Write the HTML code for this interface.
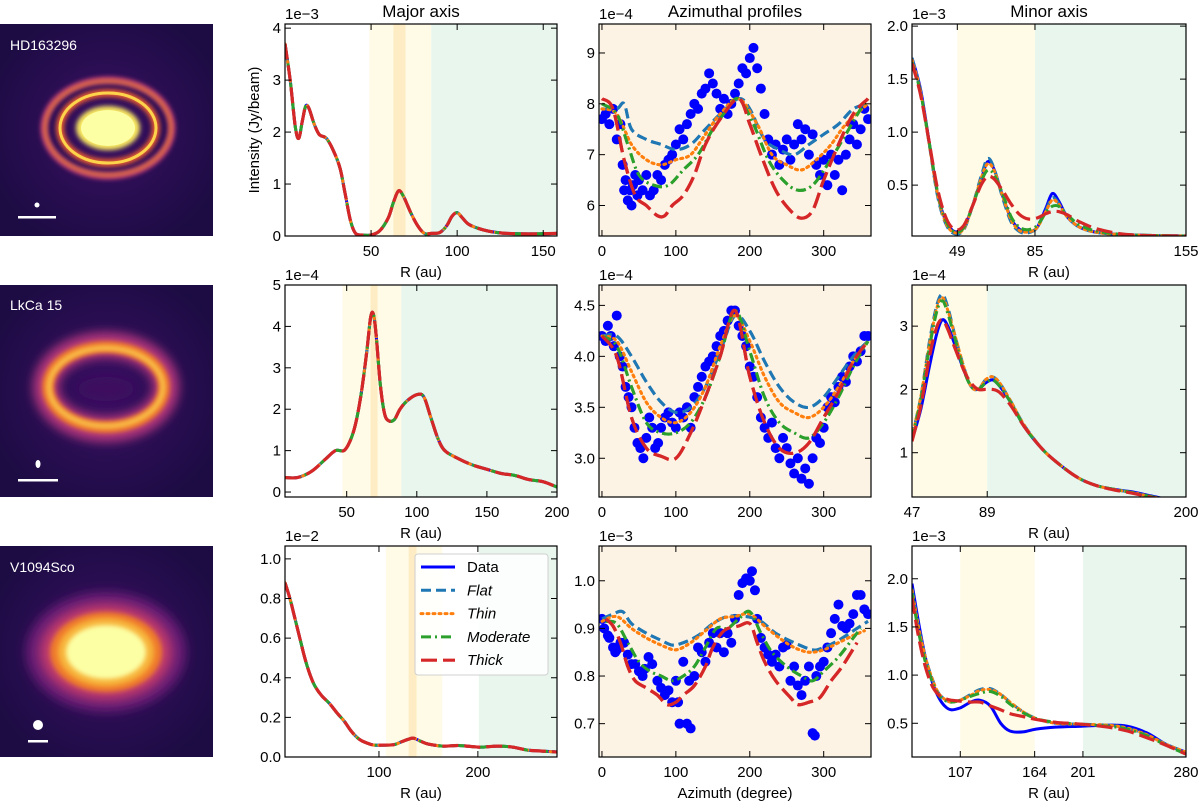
<!DOCTYPE html>
<html><head><meta charset="utf-8"><style>
html,body{margin:0;padding:0;background:#fff;width:1200px;height:801px;overflow:hidden}
svg text{font-family:"Liberation Sans","DejaVu Sans",sans-serif;fill:#000}
</style></head><body>
<svg id="fig" width="1200" height="801" viewBox="0 0 1200 801" xmlns="http://www.w3.org/2000/svg">
<defs>
<radialGradient id="gbg" cx="50%" cy="50%" r="60%"><stop offset="0" stop-color="#3a0f63"/><stop offset="1" stop-color="#1c0c43"/></radialGradient>
<filter id="bl2" x="-50%" y="-50%" width="200%" height="200%"><feGaussianBlur stdDeviation="2.5"/></filter>
<filter id="bl4" x="-50%" y="-50%" width="200%" height="200%"><feGaussianBlur stdDeviation="5"/></filter>
<clipPath id="ct1"><rect x="0" y="24" width="213" height="212"/></clipPath>
<clipPath id="ct2"><rect x="0" y="285" width="213" height="212"/></clipPath>
<clipPath id="ct3"><rect x="0" y="546" width="213" height="211"/></clipPath>
</defs>
<g clip-path="url(#ct1)">
<rect x="0" y="24" width="213" height="212" fill="url(#gbg)"/>
<ellipse cx="108" cy="128" rx="64" ry="48" fill="none" stroke="#b5367a" stroke-width="7" filter="url(#bl2)"/>
<ellipse cx="108" cy="128" rx="63" ry="47" fill="none" stroke="#f4872a" stroke-width="3" filter="url(#bl2)"/>
<ellipse cx="108" cy="128" rx="48" ry="35" fill="none" stroke="#e85c30" stroke-width="8" filter="url(#bl2)"/>
<ellipse cx="108" cy="128" rx="48" ry="35" fill="none" stroke="#fcd34a" stroke-width="3"/>
<ellipse cx="108" cy="128" rx="32" ry="22" fill="#f9e860" filter="url(#bl2)"/>
<ellipse cx="108" cy="128" rx="27" ry="18" fill="#fcffa4"/>
<circle cx="37" cy="205" r="2.5" fill="#fff"/><rect x="18" y="216" width="38" height="2.5" fill="#fff"/>
<text x="10" y="50" font-size="14" style="fill:#fff">HD163296</text>
</g>
<g clip-path="url(#ct2)">
<rect x="0" y="285" width="213" height="212" fill="url(#gbg)"/>
<ellipse cx="106" cy="387" rx="60" ry="42" fill="none" stroke="#b0357b" stroke-width="26" filter="url(#bl4)"/>
<ellipse cx="106" cy="387" rx="58" ry="40" fill="none" stroke="#f07a2a" stroke-width="12" filter="url(#bl2)"/>
<ellipse cx="106" cy="387" rx="57" ry="39" fill="none" stroke="#fbd050" stroke-width="4" filter="url(#bl2)"/>
<ellipse cx="106" cy="389" rx="28" ry="12" fill="#3e0f5e" filter="url(#bl4)"/>
<ellipse cx="38" cy="464" rx="2.5" ry="4" fill="#fff"/><rect x="18" y="479" width="40" height="2.5" fill="#fff"/>
<text x="10" y="310" font-size="14" style="fill:#fff">LkCa 15</text>
</g>
<g clip-path="url(#ct3)">
<rect x="0" y="546" width="213" height="211" fill="url(#gbg)"/>
<ellipse cx="106" cy="652" rx="80" ry="60" fill="#6a1a74" filter="url(#bl4)"/>
<ellipse cx="106" cy="652" rx="66" ry="48" fill="#c03a6c" filter="url(#bl4)"/>
<ellipse cx="106" cy="652" rx="56" ry="40" fill="#ef7c2c" filter="url(#bl2)"/>
<ellipse cx="106" cy="652" rx="48" ry="34" fill="#f7b43a" filter="url(#bl2)"/>
<ellipse cx="106" cy="652" rx="40" ry="27" fill="#fcffa4" filter="url(#bl2)"/>
<circle cx="38" cy="725" r="5" fill="#fff"/><rect x="28" y="740" width="20" height="2.5" fill="#fff"/>
<text x="10" y="572" font-size="14" style="fill:#fff">V1094Sco</text>
</g>
<g id="plots"></g>
</svg>
<script>
// ---- Panel geometry ----
const COLS=[[285,557],[599,871],[912,1186]];
const ROWS=[[24,236],[285,497],[546,757]];
// ---- Data arrays ----
// HD163296
const hdMajorR=[0,3,6,8,10,12,14,17,20,24,28,32,35,38,41,45,50,55,60,63,66,69,73,77,81,85,90,94,97,100,103,107,115,125,140,158];
const hdMajorI=[3.7,3.0,2.1,1.88,2.2,2.5,2.45,2.15,1.95,1.88,1.65,1.3,0.8,0.3,0.05,0.02,0.02,0.1,0.35,0.65,0.87,0.75,0.45,0.2,0.05,0.05,0.07,0.2,0.38,0.45,0.35,0.22,0.12,0.06,0.04,0.05];
const hdAzFlatX=[0,20,30,40,60,80,100,120,140,160,185,200,220,240,260,280,300,320,340,360];
const hdAzFlatY=[7.9,7.9,8.0,7.5,7.3,7.2,7.1,7.2,7.5,7.8,8.1,7.9,7.3,7.1,7.0,7.2,7.4,7.6,7.9,8.0];
const hdAzThinX=[0,20,40,60,80,100,120,140,160,185,210,230,250,270,290,310,330,360];
const hdAzThinY=[7.9,7.8,7.2,6.9,6.8,6.9,7.0,7.4,7.8,8.1,7.6,7.0,6.8,6.7,6.9,7.2,7.6,8.0];
const hdAzModX=[0,20,35,50,70,90,110,130,150,170,185,205,225,245,265,285,305,330,350,360];
const hdAzModY=[8.0,7.8,7.2,6.6,6.4,6.4,6.7,7.0,7.5,7.9,8.1,7.6,6.9,6.5,6.3,6.4,6.8,7.4,7.9,8.1];
const hdAzThickX=[0,15,30,45,60,75,85,95,110,125,140,160,185,200,215,235,255,270,285,300,320,340,360];
const hdAzThickY=[8.1,7.9,6.9,6.2,6.0,5.8,5.8,6.0,6.2,6.6,7.2,7.7,8.1,7.6,7.0,6.3,5.9,5.75,5.9,6.5,7.2,7.8,8.1];
const hdAzDataX=[0,5,10,15,20,25,28,30,32,35,38,40,42,45,48,50,55,60,65,70,75,80,85,90,95,100,105,110,115,120,125,130,135,140,145,150,155,160,165,170,175,180,185,190,195,200,205,210,215,220,225,230,235,240,245,250,255,260,265,270,275,280,285,290,295,300,305,310,315,320,325,330,335,340,345,350,355,360];
const hdAzDataY=[7.7,7.8,7.6,7.9,7.3,7.6,6.8,6.3,6.5,6.1,6.3,6.0,6.4,6.6,6.2,6.5,6.3,6.6,6.2,6.3,6.6,6.5,6.8,6.9,7.0,7.2,7.5,7.3,7.6,7.8,8.0,7.9,8.2,8.3,8.6,8.4,8.2,7.9,8.1,7.8,8.0,8.2,8.4,8.7,8.6,8.9,9.1,8.7,8.3,7.8,7.3,7.0,7.2,6.8,7.1,7.3,6.9,7.2,7.6,7.3,7.5,7.0,7.4,6.8,6.6,6.9,6.4,7.0,6.6,6.9,6.3,7.0,7.3,7.6,7.2,7.5,7.9,7.7];
const hdMinR=[28,32,36,40,44,48,52,56,60,63,66,70,74,78,82,86,90,93,96,100,106,115,130,155];
const hdMinData=[1.7,1.4,0.9,0.4,0.15,0.06,0.1,0.3,0.55,0.72,0.65,0.4,0.18,0.08,0.06,0.1,0.28,0.42,0.35,0.2,0.1,0.05,0.03,0.02];
const hdMinFlat=[1.7,1.38,0.88,0.38,0.12,0.04,0.08,0.3,0.58,0.75,0.66,0.38,0.15,0.06,0.05,0.1,0.26,0.38,0.33,0.2,0.1,0.05,0.03,0.02];
const hdMinThin=[1.68,1.38,0.88,0.4,0.13,0.05,0.09,0.3,0.56,0.7,0.64,0.4,0.17,0.07,0.06,0.1,0.25,0.36,0.32,0.2,0.1,0.05,0.03,0.02];
const hdMinMod=[1.66,1.37,0.9,0.42,0.15,0.06,0.1,0.3,0.53,0.64,0.6,0.42,0.2,0.1,0.08,0.12,0.24,0.3,0.3,0.22,0.12,0.06,0.03,0.02];
const hdMinThick=[1.65,1.35,0.9,0.45,0.18,0.08,0.12,0.3,0.5,0.58,0.56,0.45,0.32,0.22,0.18,0.19,0.23,0.25,0.25,0.22,0.15,0.08,0.03,0.02];
// LkCa 15
const lkMajorR=[6,15,25,35,42,48,52,56,60,64,67,69,71,74,77,80,84,88,93,100,105,110,115,120,130,140,150,160,170,180,190,200];
const lkMajorI=[0.35,0.35,0.5,0.8,1.0,1.0,1.2,1.6,2.3,3.3,4.2,4.3,3.8,2.6,1.9,1.72,1.75,2.0,2.2,2.35,2.3,1.8,1.3,1.0,0.8,0.65,0.55,0.45,0.4,0.3,0.25,0.12];
const lkAzX=[0,20,40,60,80,100,120,140,160,180,200,220,240,260,280,300,320,340,360];
const lkAzFlat=[4.2,4.2,4.0,3.75,3.55,3.45,3.5,3.7,4.05,4.4,4.25,3.95,3.7,3.55,3.5,3.6,3.8,4.0,4.15];
const lkAzThin=[4.2,4.15,3.85,3.55,3.4,3.35,3.45,3.7,4.1,4.4,4.15,3.8,3.55,3.45,3.4,3.5,3.7,3.95,4.15];
const lkAzMod=[4.2,4.1,3.7,3.35,3.25,3.25,3.35,3.6,4.0,4.45,4.05,3.6,3.35,3.25,3.2,3.35,3.6,3.9,4.15];
const lkAzThick=[4.2,4.0,3.4,3.1,3.02,3.0,3.25,3.6,4.0,4.45,3.8,3.35,3.1,3.05,3.15,3.4,3.65,3.95,4.15];
const lkAzDataX=[0,5,8,12,16,20,24,28,32,36,40,44,48,52,56,60,64,68,72,76,80,85,90,95,100,105,110,115,120,125,130,135,140,145,150,155,160,165,170,175,180,185,190,195,200,205,210,215,220,225,230,235,240,245,250,255,260,265,270,275,280,285,290,295,300,305,310,315,320,325,330,335,340,345,350,355,360];
const lkAzDataY=[4.2,4.15,4.3,4.2,4.1,4.4,4.0,3.9,3.7,3.6,3.5,3.3,3.15,3.1,3.0,3.2,3.4,3.3,3.1,3.15,3.3,3.4,3.45,3.35,3.3,3.45,3.4,3.5,3.3,3.6,3.7,3.8,3.9,3.95,4.0,4.1,4.2,4.25,4.35,4.45,4.45,4.3,4.2,4.1,3.9,3.8,3.6,3.4,3.3,3.2,3.35,3.1,3.0,3.2,3.1,2.95,2.85,3.0,2.8,2.9,2.75,3.0,3.2,3.15,3.3,3.5,3.6,3.55,3.7,3.8,3.75,3.9,4.0,3.95,4.05,4.2,4.2];
const lkMinR=[47,52,57,61,64,67,71,76,80,84,88,92,96,102,110,120,130,140,150,160,170,180,190,200];
const lkMinData=[1.2,1.7,2.4,2.9,3.1,3.0,2.7,2.3,2.05,2.0,2.1,2.15,2.05,1.8,1.4,1.05,0.8,0.6,0.48,0.42,0.38,0.32,0.26,0.18];
const lkMinFlat=[1.25,1.9,2.8,3.35,3.5,3.3,2.85,2.35,2.05,2.0,2.15,2.2,2.1,1.82,1.42,1.05,0.8,0.6,0.48,0.42,0.37,0.31,0.25,0.17];
const lkMinThin=[1.25,1.9,2.75,3.3,3.45,3.25,2.85,2.35,2.05,2.0,2.15,2.2,2.1,1.82,1.42,1.05,0.8,0.6,0.48,0.42,0.37,0.31,0.25,0.17];
const lkMinMod=[1.22,1.85,2.7,3.25,3.4,3.2,2.8,2.3,2.05,2.0,2.1,2.15,2.05,1.8,1.4,1.05,0.8,0.6,0.48,0.42,0.37,0.31,0.25,0.17];
const lkMinThick=[1.18,1.75,2.55,3.0,3.1,2.95,2.65,2.3,2.1,2.0,2.0,2.0,1.95,1.75,1.4,1.05,0.8,0.6,0.48,0.41,0.36,0.3,0.24,0.17];
// V1094Sco
const vMajorR=[5,10,15,20,25,30,35,42,50,58,65,72,80,88,95,105,115,122,130,135,142,150,165,180,195,205,220,235,250,265,280];
const vMajorI=[0.88,0.8,0.7,0.6,0.5,0.42,0.36,0.31,0.27,0.22,0.18,0.13,0.09,0.07,0.06,0.06,0.062,0.075,0.09,0.095,0.08,0.065,0.055,0.058,0.052,0.05,0.055,0.05,0.035,0.03,0.025];
const vAzFlatX=[0,15,28,40,60,80,95,110,130,150,170,195,215,235,260,285,300,320,340,360];
const vAzFlatY=[0.92,0.93,0.935,0.91,0.89,0.875,0.865,0.87,0.885,0.91,0.925,0.925,0.915,0.89,0.87,0.855,0.86,0.875,0.895,0.915];
const vAzThinX=[0,20,40,60,80,100,120,140,160,180,200,220,240,260,280,300,320,340,355];
const vAzThinY=[0.915,0.925,0.9,0.88,0.865,0.855,0.87,0.895,0.92,0.925,0.93,0.905,0.88,0.86,0.85,0.855,0.87,0.885,0.895];
const vAzModX=[5,20,35,50,65,80,95,110,125,140,155,170,185,200,215,230,250,270,285,300,320,340,350];
const vAzModY=[0.915,0.91,0.87,0.83,0.81,0.8,0.79,0.8,0.82,0.86,0.9,0.9,0.92,0.935,0.89,0.85,0.82,0.8,0.79,0.81,0.84,0.88,0.9];
const vAzThickX=[5,15,25,35,45,60,75,88,100,110,125,140,150,165,185,200,210,220,235,255,265,280,295,310,325,345];
const vAzThickY=[0.92,0.905,0.87,0.82,0.79,0.775,0.76,0.74,0.745,0.76,0.78,0.82,0.86,0.895,0.905,0.91,0.87,0.83,0.79,0.755,0.74,0.745,0.755,0.79,0.82,0.87];
const vAzDataX=[0,3,8,10,15,18,20,25,30,35,40,45,50,55,58,63,68,75,80,85,90,95,100,103,105,110,115,118,120,125,130,135,140,145,150,155,160,165,170,175,180,185,190,195,200,203,207,210,215,220,225,230,235,240,245,250,255,260,265,270,275,280,285,288,290,295,300,305,310,315,320,325,330,335,340,345,350,355,360];
const vAzDataY=[0.92,0.9,0.885,0.88,0.86,0.85,0.855,0.87,0.87,0.845,0.825,0.825,0.81,0.8,0.815,0.84,0.825,0.79,0.775,0.76,0.77,0.745,0.79,0.745,0.7,0.83,0.7,0.79,0.69,0.8,0.86,0.85,0.83,0.87,0.89,0.86,0.89,0.85,0.89,0.87,0.92,0.97,0.995,1.005,1.0,1.02,0.98,0.92,0.88,0.86,0.845,0.83,0.845,0.82,0.86,0.865,0.79,0.82,0.78,0.76,0.79,0.82,0.68,0.675,0.8,0.82,0.83,0.86,0.89,0.92,0.95,0.905,0.9,0.91,0.93,0.97,0.97,0.94,0.93];
const vMinR=[70,75,80,85,90,95,100,107,115,122,130,138,145,155,165,180,200,220,235,250,265,280];
const vMinData=[1.95,1.55,1.2,0.95,0.78,0.68,0.64,0.66,0.72,0.74,0.68,0.5,0.42,0.41,0.44,0.46,0.47,0.48,0.47,0.4,0.28,0.2];
const vMinFlat=[1.9,1.5,1.2,0.98,0.82,0.75,0.72,0.74,0.8,0.85,0.86,0.8,0.72,0.62,0.55,0.5,0.49,0.48,0.45,0.38,0.28,0.2];
const vMinThin=[1.88,1.5,1.2,0.98,0.82,0.75,0.72,0.74,0.79,0.84,0.85,0.8,0.72,0.62,0.55,0.5,0.49,0.48,0.45,0.38,0.28,0.2];
const vMinMod=[1.85,1.45,1.15,0.95,0.8,0.74,0.72,0.74,0.78,0.81,0.83,0.78,0.7,0.61,0.55,0.51,0.49,0.47,0.44,0.37,0.27,0.18];
const vMinThick=[1.8,1.4,1.1,0.9,0.8,0.76,0.74,0.73,0.72,0.72,0.68,0.64,0.6,0.57,0.54,0.51,0.49,0.46,0.42,0.35,0.27,0.18];

const STY={
 data:{c:'#0000ff',d:'',w:3},
 flat:{c:'#1f77b4',d:'10,5',w:3},
 thin:{c:'#ff7f0e',d:'2,4',w:3},
 mod:{c:'#2ca02c',d:'10,4,2,4',w:3},
 thick:{c:'#d62728',d:'16,6',w:3.2}
};
const NS='http://www.w3.org/2000/svg';
const root=document.getElementById('plots');
function mk(tag,attrs,parent){const e=document.createElementNS(NS,tag);for(const k in attrs)e.setAttribute(k,attrs[k]);(parent||root).appendChild(e);return e;}
function smoothPath(pts){
 if(pts.length<2)return '';
 let d='M'+pts[0][0].toFixed(1)+','+pts[0][1].toFixed(1);
 for(let i=0;i<pts.length-1;i++){
  const p0=pts[Math.max(0,i-1)],p1=pts[i],p2=pts[i+1],p3=pts[Math.min(pts.length-1,i+2)];
  const c1=[p1[0]+(p2[0]-p0[0])/6,p1[1]+(p2[1]-p0[1])/6],c2=[p2[0]-(p3[0]-p1[0])/6,p2[1]-(p3[1]-p1[1])/6];
  d+=' C'+c1.map(v=>v.toFixed(1))+' '+c2.map(v=>v.toFixed(1))+' '+p2[0].toFixed(1)+','+p2[1].toFixed(1);
 }
 return d;
}
function panel(cfg){
 const [x0,x1]=COLS[cfg.col],[y0,y1]=ROWS[cfg.row];
 const sx=v=>x0+(v-cfg.xr[0])/(cfg.xr[1]-cfg.xr[0])*(x1-x0);
 const sy=v=>y1-(v-cfg.yr[0])/(cfg.yr[1]-cfg.yr[0])*(y1-y0);
 const g=mk('g',{});
 
 
 const cid='clip'+cfg.name;
 const cp=mk('clipPath',{id:cid},g);mk('rect',{x:x0,y:y0,width:x1-x0,height:y1-y0},cp);
 if(cfg.bg){const r=mk('rect',{x:x0,y:y0,width:x1-x0,height:y1-y0,fill:cfg.bg},g);}
 (cfg.bands||[]).forEach(b=>{const r=mk('rect',{x:sx(b[0]),y:y0,width:sx(b[1])-sx(b[0]),height:y1-y0,fill:b[2]},g);});
 const pg=mk('g',{'clip-path':'url(#'+cid+')'},g);
 (cfg.series||[]).forEach(s=>{
  const st=STY[s.k];
  const pts=s.x.map((v,i)=>[sx(v),sy(s.y[i])]);
  const p=mk('path',{d:smoothPath(pts),fill:'none',stroke:st.c,'stroke-width':st.w,'stroke-dasharray':st.d,'stroke-linecap':s.k==='thin'?'round':'butt'},pg);
  
  
 });
 if(cfg.scatter){cfg.scatter.x.forEach((v,i)=>{
  const c=mk('circle',{cx:sx(v),cy:sy(cfg.scatter.y[i]),r:5,fill:'#0000ff'},pg);
  
  
 });
 (cfg.series||[]).forEach(s=>{if(s.k==='data')return;const st=STY[s.k];
  const p=mk('path',{d:smoothPath(s.x.map((v,i)=>[sx(v),sy(s.y[i])])),fill:'none',stroke:st.c,'stroke-width':st.w,'stroke-dasharray':st.d,'stroke-linecap':s.k==='thin'?'round':'butt'},pg);
  
  });
 }
 const fr=mk('rect',{x:x0,y:y0,width:x1-x0,height:y1-y0,fill:'none',stroke:'#000','stroke-width':1.2},g);
 
 cfg.xt.forEach(t=>{const X=sx(t);
  mk('line',{x1:X,x2:X,y1:y1,y2:y1-6,stroke:'#000'},g);mk('line',{x1:X,x2:X,y1:y0,y2:y0+6,stroke:'#000'},g);
  const tx=mk('text',{x:X,y:y1+20,'font-size':15,'text-anchor':'middle'},g);tx.textContent=t;
  });
 cfg.yt.forEach(t=>{const Y=sy(t);
  mk('line',{x1:x0,x2:x0+6,y1:Y,y2:Y,stroke:'#000'},g);mk('line',{x1:x1,x2:x1-6,y1:Y,y2:Y,stroke:'#000'},g);
  const tx=mk('text',{x:x0-4,y:Y+5,'font-size':15,'text-anchor':'end'},g);tx.textContent=cfg.yfmt?t.toFixed(cfg.yfmt):t;
  });
 const off=mk('text',{x:x0,y:y0-5,'font-size':15},g);off.textContent=cfg.off;
 
 if(cfg.xlabel){const t=mk('text',{x:(x0+x1)/2,y:y1+41,'font-size':15,'text-anchor':'middle'},g);t.textContent=cfg.xlabel;
  }
 if(cfg.title){const t=mk('text',{x:(x0+x1)/2,y:y0-7,'font-size':17,'text-anchor':'middle'},g);t.textContent=cfg.title;
  }
}
const Y='#fffbe6',O='#feedc4',G='#e8f6ee',AZ='#fdf3e4';
function five(x,a,b,c,d,e){return [{k:'data',x:x,y:a},{k:'flat',x:x,y:b},{k:'thin',x:x,y:c},{k:'mod',x:x,y:d},{k:'thick',x:x,y:e}];}
// Row 1
panel({name:'hd-major-axis',row:0,col:0,xr:[0,158],yr:[0,4.08],xt:[50,100,150],yt:[0,1,2,3,4],off:'1e\u22123',title:'Major axis',xlabel:'R (au)',
 bands:[[49,85,Y],[63,70,O],[85,158,G]],series:five(hdMajorR,hdMajorI,hdMajorI,hdMajorI,hdMajorI,hdMajorI)});
panel({name:'hd-azimuthal',row:0,col:1,xr:[-4,364],yr:[5.4,9.57],xt:[0,100,200,300],yt:[6,7,8,9],off:'1e\u22124',title:'Azimuthal profiles',bg:AZ,
 scatter:{x:hdAzDataX,y:hdAzDataY},series:[{k:'flat',x:hdAzFlatX,y:hdAzFlatY},{k:'thin',x:hdAzThinX,y:hdAzThinY},{k:'mod',x:hdAzModX,y:hdAzModY},{k:'thick',x:hdAzThickX,y:hdAzThickY}]});
panel({name:'hd-minor-axis',row:0,col:2,xr:[28,155],yr:[0.02,2.02],xt:[49,85,155],yt:[0.5,1.0,1.5,2.0],yfmt:1,off:'1e\u22123',title:'Minor axis',xlabel:'R (au)',
 bands:[[49,85,Y],[85,155,G]],series:five(hdMinR,hdMinData,hdMinFlat,hdMinThin,hdMinMod,hdMinThick)});
// Row 2
panel({name:'lk-major-axis',row:1,col:0,xr:[6,200],yr:[-0.12,5.0],xt:[50,100,150,200],yt:[0,1,2,3,4,5],off:'1e\u22124',xlabel:'R (au)',
 bands:[[47,89,Y],[67,72,O],[89,200,G]],series:five(lkMajorR,lkMajorI,lkMajorI,lkMajorI,lkMajorI,lkMajorI)});
panel({name:'lk-azimuthal',row:1,col:1,xr:[-4,364],yr:[2.62,4.70],xt:[0,100,200,300],yt:[3.0,3.5,4.0,4.5],yfmt:1,off:'1e\u22124',bg:AZ,
 scatter:{x:lkAzDataX,y:lkAzDataY},series:[{k:'flat',x:lkAzX,y:lkAzFlat},{k:'thin',x:lkAzX,y:lkAzThin},{k:'mod',x:lkAzX,y:lkAzMod},{k:'thick',x:lkAzX,y:lkAzThick}]});
panel({name:'lk-minor-axis',row:1,col:2,xr:[47,200],yr:[0.3,3.65],xt:[47,89,200],yt:[1,2,3],off:'1e\u22124',xlabel:'R (au)',
 bands:[[47,89,Y],[89,200,G]],series:five(lkMinR,lkMinData,lkMinFlat,lkMinThin,lkMinMod,lkMinThick)});
// Row 3
panel({name:'v-major-axis',row:2,col:0,xr:[5,280],yr:[0,1.065],xt:[100,200],yt:[0,0.2,0.4,0.6,0.8,1.0],yfmt:1,off:'1e\u22122',xlabel:'R (au)',
 bands:[[107,164,Y],[130,138,O],[201,280,G]],series:five(vMajorR,vMajorI,vMajorI,vMajorI,vMajorI,vMajorI)});
panel({name:'v-azimuthal',row:2,col:1,xr:[-4,364],yr:[0.63,1.073],xt:[0,100,200,300],yt:[0.7,0.8,0.9,1.0],yfmt:1,off:'1e\u22123',bg:AZ,xlabel:'Azimuth (degree)',
 scatter:{x:vAzDataX,y:vAzDataY},series:[{k:'flat',x:vAzFlatX,y:vAzFlatY},{k:'thin',x:vAzThinX,y:vAzThinY},{k:'mod',x:vAzModX,y:vAzModY},{k:'thick',x:vAzThickX,y:vAzThickY}]});
panel({name:'v-minor-axis',row:2,col:2,xr:[70,280],yr:[0.15,2.34],xt:[107,164,201,280],yt:[0.5,1.0,1.5,2.0],yfmt:1,off:'1e\u22123',xlabel:'R (au)',
 bands:[[107,164,Y],[201,280,G]],series:five(vMinR,vMinData,vMinFlat,vMinThin,vMinMod,vMinThick)});
// Y-axis label
const yl=mk('text',{x:0,y:0,'font-size':15,'text-anchor':'middle',transform:'translate(259,130) rotate(-90)'});
yl.textContent='Intensity (Jy/beam)';


// Legend
const lg=mk('g',{});


mk('rect',{x:415,y:554,width:133,height:121,rx:3,fill:'#fff','fill-opacity':0.85,stroke:'#d0d0d0'},lg);
const legKeys=['data','flat','thin','mod','thick'];
const legLabels=['Data','Flat','Thin','Moderate','Thick'];
legKeys.forEach((k,i)=>{const yy=567+i*23.3;const st=STY[k];
 const l=mk('line',{x1:421,x2:455,y1:yy,y2:yy,stroke:st.c,'stroke-width':st.w,'stroke-dasharray':st.d,'stroke-linecap':k==='thin'?'round':'butt'},lg);
 
 
 const t=mk('text',{x:467,y:yy+5,'font-size':15,'font-style':i?'italic':'normal'},lg);t.textContent=legLabels[i];
 
 
});
</script>
</body></html>
